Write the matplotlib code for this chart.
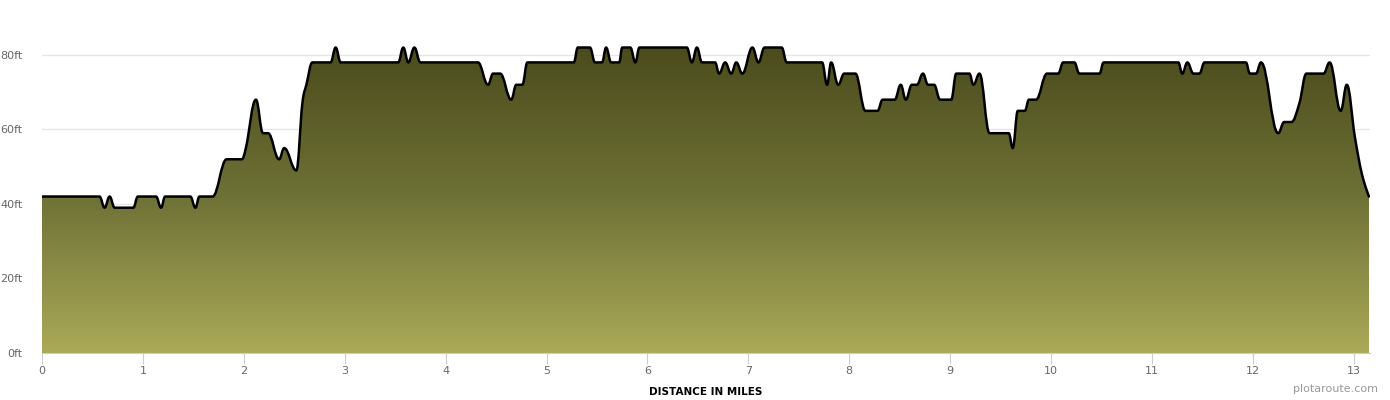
import numpy as np
import matplotlib
matplotlib.use("Agg")
import matplotlib.pyplot as plt
from matplotlib.colors import LinearSegmentedColormap
from matplotlib.path import Path
from matplotlib.patches import PathPatch

# elevation profile (miles, feet)
miles = [0.00, 0.57, 0.62, 0.67, 0.72, 0.905, 0.95, 1.13, 1.18, 1.22, 1.47, 1.52, 1.56, 1.69,
         1.83, 1.98, 2.02, 2.12, 2.19, 2.24, 2.35, 2.40, 2.52, 2.58, 2.62, 2.68, 2.86, 2.91,
         2.96, 3.53, 3.58, 3.63, 3.69, 3.75, 4.32, 4.42, 4.47, 4.54, 4.65, 4.70, 4.76, 4.81,
         5.27, 5.31, 5.43, 5.48, 5.55, 5.59, 5.64, 5.72, 5.75, 5.83, 5.88, 5.92, 6.39, 6.44,
         6.49, 6.54, 6.67, 6.71, 6.77, 6.83, 6.88, 6.94, 7.04, 7.10, 7.16, 7.33, 7.38, 7.73,
         7.78, 7.82, 7.89, 7.95, 8.06, 8.16, 8.28, 8.33, 8.45, 8.51, 8.56, 8.62, 8.67, 8.73,
         8.78, 8.84, 8.90, 9.01, 9.06, 9.19, 9.23, 9.29, 9.39, 9.58, 9.62, 9.67, 9.74, 9.78,
         9.85, 9.96, 10.07, 10.12, 10.23, 10.28, 10.48, 10.52, 11.26, 11.30, 11.35, 11.41,
         11.47, 11.52, 11.93, 11.97, 12.03, 12.08, 12.25, 12.31, 12.38, 12.46, 12.53, 12.70,
         12.76, 12.87, 12.93, 13.01, 13.08, 13.15]
elev_ft = [42, 42, 39, 42, 39, 39, 42, 42, 39, 42, 42, 39, 42, 42,
           52, 52, 55, 68, 59, 59, 52, 55, 49, 67, 72, 78, 78, 82,
           78, 78, 82, 78, 82, 78, 78, 72, 75, 75, 68, 72, 72, 78,
           78, 82, 82, 78, 78, 82, 78, 78, 82, 82, 78, 82, 82, 78,
           82, 78, 78, 75, 78, 75, 78, 75, 82, 78, 82, 82, 78, 78,
           72, 78, 72, 75, 75, 65, 65, 68, 68, 72, 68, 72, 72, 75,
           72, 72, 68, 68, 75, 75, 72, 75, 59, 59, 55, 65, 65, 68,
           68, 75, 75, 78, 78, 75, 75, 78, 78, 75, 78, 75,
           75, 78, 78, 75, 75, 78, 59, 62, 62, 67, 75, 75,
           78, 65, 72, 58, 48, 42]

y_ticks = [0, 20, 40, 60, 80]
x_ticks = list(range(0, 14))


def spline_path(xs, ys, smoothing=1.5):
    # bezier spline through the points, highcharts style
    n = len(xs)
    verts = [(xs[0], ys[0])]
    codes = [Path.MOVETO]
    conts = []
    for i in range(n):
        if i == 0 or i == n - 1:
            conts.append(((xs[i], ys[i]), (xs[i], ys[i])))
            continue
        px, py = xs[i], ys[i]
        lx, ly = xs[i - 1], ys[i - 1]
        nx, ny = xs[i + 1], ys[i + 1]
        d = smoothing + 1
        lcx = (smoothing * px + lx) / d
        lcy = (smoothing * py + ly) / d
        rcx = (smoothing * px + nx) / d
        rcy = (smoothing * py + ny) / d
        if rcx != lcx:
            corr = (rcy - lcy) * (rcx - px) / (rcx - lcx) + py - rcy
            lcy += corr
            rcy += corr
        if lcy > ly and lcy > py:
            lcy = max(ly, py)
            rcy = 2 * py - lcy
        elif lcy < ly and lcy < py:
            lcy = min(ly, py)
            rcy = 2 * py - lcy
        if rcy > ny and rcy > py:
            rcy = max(ny, py)
            lcy = 2 * py - rcy
        elif rcy < ny and rcy < py:
            rcy = min(ny, py)
            lcy = 2 * py - rcy
        conts.append(((lcx, lcy), (rcx, rcy)))
    for i in range(1, n):
        verts += [conts[i - 1][1], conts[i][0], (xs[i], ys[i])]
        codes += [Path.CURVE4] * 3
    return verts, codes


fig = plt.figure(figsize=(13.9, 4), dpi=100)
ax = fig.add_axes([42 / 1390, 47 / 400, 1328 / 1390, 323 / 400])

xmax = 13.16
ymax = 86.7
ax.set_xlim(0, xmax)
ax.set_ylim(0, ymax)

verts, codes = spline_path(miles, elev_ft)
line_path = Path(verts, codes)
area_path = Path(verts + [(miles[-1], 0), (miles[0], 0), (miles[0], elev_ft[0])],
                 codes + [Path.LINETO, Path.LINETO, Path.CLOSEPOLY])

# gradient fill under the profile
cmap = LinearSegmentedColormap.from_list("olive", ["#aaaa58", "#6f7236", "#4a4a1c"])
grad = np.linspace(0, 1, 256).reshape(-1, 1)
img = ax.imshow(grad, cmap=cmap, aspect="auto", origin="lower",
                extent=[0, xmax, 0, 83], zorder=2)
img.set_clip_path(area_path, transform=ax.transData)
ax.add_patch(PathPatch(line_path, facecolor="none", edgecolor="black", lw=1.8,
                       joinstyle="round", capstyle="round", zorder=3))

for v in y_ticks[1:]:
    ax.axhline(v, color="#e6e6e6", lw=1, zorder=1)

for s in ["top", "right", "left"]:
    ax.spines[s].set_visible(False)
ax.spines["bottom"].set_color("#cccccc")
ax.spines["bottom"].set_zorder(4)

ax.set_yticks(y_ticks)
ax.set_yticklabels([f"{v}ft" for v in y_ticks])
ax.set_xticks(x_ticks)
ax.tick_params(axis="y", length=0, labelsize=8, labelcolor="#666666", pad=14)
ax.tick_params(axis="x", length=8, color="#cccccc", labelsize=8, labelcolor="#666666", pad=1)

ax.set_xlabel("DISTANCE IN MILES", fontsize=7.5, fontweight="bold", labelpad=8)
fig.text(1378 / 1390, 6 / 400, "plotaroute.com", ha="right", va="bottom",
         fontsize=8, color="#999999")

fig.savefig("out.png", dpi=100)
